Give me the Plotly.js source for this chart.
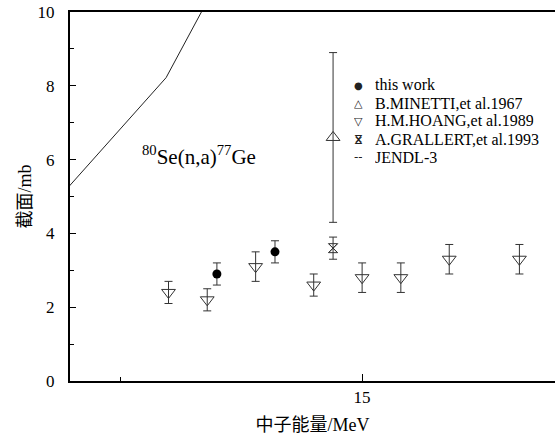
<!DOCTYPE html>
<html>
<head>
<meta charset="utf-8">
<script src="https://cdn.plot.ly/plotly-3.0.1.min.js"></script>
<style>html,body{margin:0;padding:0;background:#fff}</style>
</head>
<body>
<div id="chart" style="width:555px;height:443px"></div>
<script>
// ---- data ----
var thisWorkE = [14.40, 14.64];
var thisWorkS = [2.9, 3.5];
var thisWorkErr = [0.3, 0.3];

var minettiE = [14.88];
var minettiS = [6.6];
var minettiErr = [2.3];

var hoangE = [14.20, 14.36, 14.56, 14.80, 15.00, 15.16, 15.36, 15.65];
var hoangS = [2.4, 2.2, 3.1, 2.6, 2.8, 2.8, 3.3, 3.3];
var hoangErr = [0.3, 0.3, 0.4, 0.3, 0.4, 0.4, 0.4, 0.4];

var grallertE = [14.88];
var grallertS = [3.6];
var grallertErr = [0.3];

var jendlE = [13.7, 14.19, 14.5];
var jendlS = [4.62, 8.22, 12.0];

var xTickVals = [15];
var xTickText = ['15'];
var yTickVals = [0, 2, 4, 6, 8, 10];

var legendNames = ['this work', 'B.MINETTI,et al.1967', 'H.M.HOANG,et al.1989', 'A.GRALLERT,et al.1993', 'JENDL-3'];
var legendGlyphs = ['●', '△', '▽', '⋈', '--'];

var serif = 'Liberation Serif';
var serifCJK = 'Liberation Serif, Noto Sans CJK SC';
var errStyle = function(arr){return {type:'data', array:arr, visible:true, color:'#333', thickness:1, width:4};};

var traces = [
  {x: jendlE, y: jendlS, mode:'lines', line:{color:'#222', width:1}, name:'JENDL-3', hoverinfo:'skip'},
  {x: thisWorkE, y: thisWorkS, error_y: errStyle(thisWorkErr), mode:'markers', name:'this work',
   marker:{symbol:'circle', size:9, color:'#000'}},
  {x: minettiE, y: minettiS, error_y: errStyle(minettiErr), mode:'markers', name:'B.MINETTI,et al.1967',
   marker:{symbol:'triangle-up-open', size:12, color:'#333', line:{width:1}}},
  {x: hoangE, y: hoangS, error_y: errStyle(hoangErr), mode:'markers', name:'H.M.HOANG,et al.1989',
   marker:{symbol:'triangle-down-open', size:12, color:'#333', line:{width:1}}},
  {x: grallertE, y: grallertS, error_y: errStyle(grallertErr), mode:'markers', name:'A.GRALLERT,et al.1993',
   marker:{symbol:'hourglass-open', size:9, color:'#333', line:{width:1}}},
  {x: grallertE, y: grallertS, mode:'markers', hoverinfo:'skip', name:'A.GRALLERT,et al.1993',
   marker:{symbol:'x-thin-open', size:9, color:'#333', line:{width:1}}}
];

// plot-area pixel geometry (for placing the hand-made legend)
var ML = 70, MT = 12, PW = 485, PH = 369;
var legTextX = 373, legSymX = 358, legTop = 85, legStep = 18;
var px2x = function(p){return (p - ML) / PW;};
var px2y = function(p){return 1 - (p - MT) / PH;};

var annotations = [{xref:'paper', yref:'paper', x:px2x(140), y:px2y(155), xanchor:'left', yanchor:'middle', showarrow:false,
                text:'<sup>80</sup>Se(n,a)<sup>77</sup>Ge', font:{family:serif, size:21, color:'#000'}}];
var glyphSizes = [10, 11, 11, 11, 12];
legendNames.forEach(function(nm, i){
  var yy = px2y(legTop + i * legStep);
  annotations.push({xref:'paper', yref:'paper', x:px2x(legTextX), y:yy, xanchor:'left', yanchor:'middle',
    showarrow:false, text:nm, height:17, align:'left', font:{family:serif, size:16, color:'#000'}});
  annotations.push({xref:'paper', yref:'paper', x:px2x(legSymX), y:yy, xanchor:'center', yanchor:'middle',
    showarrow:false, text:legendGlyphs[i], textangle:(i === 3 ? 90 : 0), height:14,
    font:{family:'DejaVu Sans', size:glyphSizes[i], color:'#222'}});
});
annotations.push({xref:'paper', yref:'paper', x:px2x(legSymX), y:px2y(legTop + 3 * legStep), xanchor:'center', yanchor:'middle',
    showarrow:false, text:'×', height:14, font:{family:'DejaVu Sans', size:11, color:'#222'}});

var layout = {
  width:555, height:443,
  margin:{l:ML, r:0, t:MT, b:62, pad:0},
  paper_bgcolor:'#fff', plot_bgcolor:'#fff',
  font:{family:serifCJK, color:'#000', size:16},
  showlegend:false,
  xaxis:{range:[13.793, 15.797], showgrid:false, zeroline:false, showline:true, linecolor:'#000', linewidth:2,
         mirror:true, ticks:'inside', ticklen:7, tickwidth:1, tickcolor:'#000',
         tickmode:'array', tickvals:xTickVals, ticktext:xTickText,
         minor:{tickmode:'linear', tick0:14, dtick:2, ticks:'inside', ticklen:4, tickcolor:'#000', tickwidth:1},
         tickfont:{family:serif, size:17},
         title:{text:'中子能量/MeV', font:{family:serifCJK, size:18}, standoff:12}},
  yaxis:{range:[0,10], showgrid:false, zeroline:false, showline:true, linecolor:'#000', linewidth:2,
         ticks:'inside', ticklen:6, tickwidth:1, tickcolor:'#000',
         tickmode:'array', tickvals:yTickVals,
         minor:{tickmode:'linear', tick0:1, dtick:2, ticks:'inside', ticklen:4, tickcolor:'#000', tickwidth:1},
         tickfont:{family:serif, size:17}, ticklabelstandoff:10,
         title:{text:'截面/mb', font:{family:serifCJK, size:18}, standoff:1}},
  annotations:annotations
};

Plotly.newPlot('chart', traces, layout, {displayModeBar:false, staticPlot:true});
</script>
</body>
</html>
